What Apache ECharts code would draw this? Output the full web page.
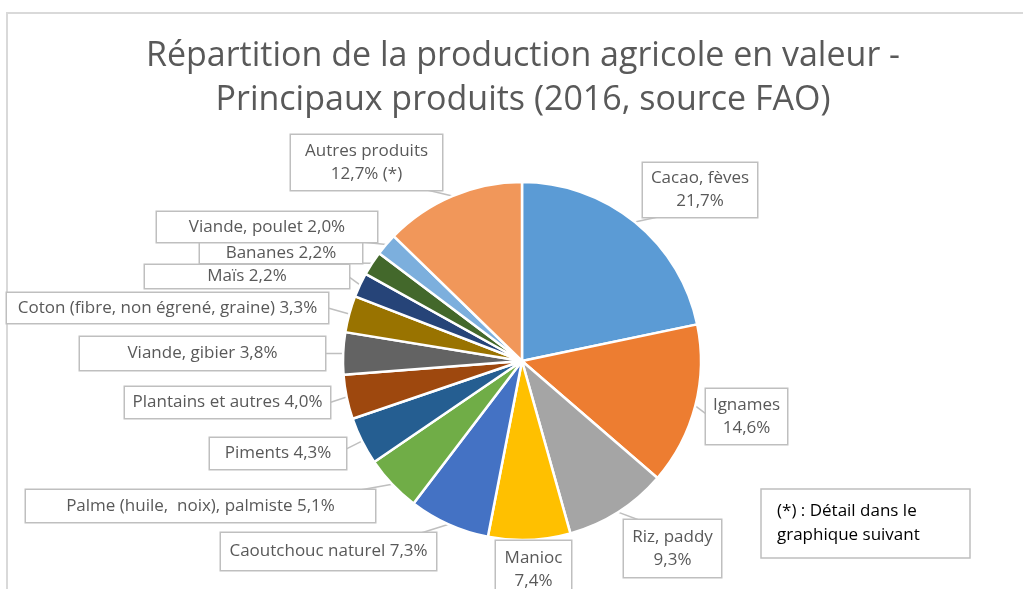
<!DOCTYPE html>
<html><head><meta charset="utf-8">
<script src="https://cdn.jsdelivr.net/npm/echarts@6/dist/echarts.min.js"></script>
<style>html,body{margin:0;padding:0;background:#fff}#c{width:1023px;height:589px}</style>
</head><body><div id="c"></div>
<script>
// ---- data ----
const categories = ['Cacao, fèves','Ignames','Riz, paddy','Manioc','Caoutchouc naturel','Palme (huile,  noix), palmiste','Piments','Plantains et autres','Viande, gibier','Coton (fibre, non égrené, graine)','Maïs','Bananes','Viande, poulet','Autres produits'];
const values = [21.7,14.6,9.3,7.4,7.3,5.1,4.3,4.0,3.8,3.3,2.2,2.2,2.0,12.7];
const labelSuffix = ['','','','','','','','','','','','','',' (*)'];
const twoLineLabel = [true,true,true,true,false,false,false,false,false,false,false,false,false,true];
const colors = ['#5B9BD5','#ED7D31','#A5A5A5','#FFC000','#4472C4','#70AD47','#255E91','#9E480E','#636363','#997300','#264478','#43682B','#7CAFDD','#F1975A'];
const titleText = 'Répartition de la production agricole en valeur -\nPrincipaux produits (2016, source FAO)';
const noteText = '(*) : Détail dans le\ngraphique suivant';

// ---- label box layout (x0, y0, x1, y1) ----
const labelBoxes = [
  [643,163,757,217],[706,389,787,444],[624,520,721,577],[496,541,571,598],
  [221,533,436,570],[26,490,375,522],[210,438,346,469],[125,387,330,418],
  [80,337,325,370],[7,293,328,323],[145,265,349,288],[200,243,362,263],
  [157,212,377,242],[291,135,442,190]
];

const FONT = '"Open Sans", sans-serif';
const chart = echarts.init(document.getElementById('c'), null, {renderer:'canvas'});

function fmt(v){ return v.toFixed(1).replace('.', ','); }

const option = {
  animation: false,
  color: colors,
  graphic: [
    {type:'rect', shape:{x:7, y:13, width:1200, height:800}, style:{fill:null, stroke:'#D9D9D9', lineWidth:2}, z:0},
    {type:'text', x:523, y:78, style:{text:titleText, align:'center', verticalAlign:'middle', fill:'#595959', fontSize:34, lineHeight:44, fontFamily:FONT}},
    {type:'rect', shape:{x:761, y:489, width:209, height:69}, style:{fill:'#fff', stroke:'#BFBFBF', lineWidth:1.5}},
    {type:'text', x:777, y:523, style:{text:noteText, align:'left', verticalAlign:'middle', fill:'#000', fontSize:17, lineHeight:24, fontFamily:FONT}}
  ],
  series: [{
    type:'pie',
    center:[522,361],
    radius:179,
    startAngle:90,
    clockwise:true,
    avoidLabelOverlap:false,
    itemStyle:{borderColor:'#fff', borderWidth:2.5},
    label:{
      show:true, position:'outside',
      color:'#595959', fontSize:17, fontFamily:FONT, lineHeight:23,
      backgroundColor:'#fff', borderColor:'#BFBFBF', borderWidth:1.5,
      formatter: function(p){
        const i = p.dataIndex;
        return categories[i] + (twoLineLabel[i] ? '\n' : ' ') + fmt(values[i]) + '%' + labelSuffix[i];
      }
    },
    labelLine:{show:true, length:10, length2:10, lineStyle:{color:'#BFBFBF', width:1.5}},
    labelLayout: function(p){
      const b = labelBoxes[p.dataIndex];
      const cx = (b[0]+b[2])/2, cy = (b[1]+b[3])/2;
      const w = b[2]-b[0], h = b[3]-b[1];
      const pts = p.labelLinePoints;
      const res = {x:cx, y:cy, align:'center', verticalAlign:'middle', width:w, height:h};
      if (pts) {
        const ex = pts[0][0], ey = pts[0][1];
        let ax = Math.min(Math.max(ex, b[0]), b[2]);
        let ay = Math.min(Math.max(ey, b[1]), b[3]);
        if (ay === b[1] || ay === b[3]) { ax += Math.max(-15, Math.min(15, cx-ax)); }
        else { ay += Math.max(-8, Math.min(8, cy-ay)); }
        res.labelLinePoints = [[ex,ey],[ax,ay],[ax,ay]];
      }
      return res;
    },
    data: categories.map((n,i)=>({name:n, value:values[i]}))
  }]
};
chart.setOption(option);
</script></body></html>
